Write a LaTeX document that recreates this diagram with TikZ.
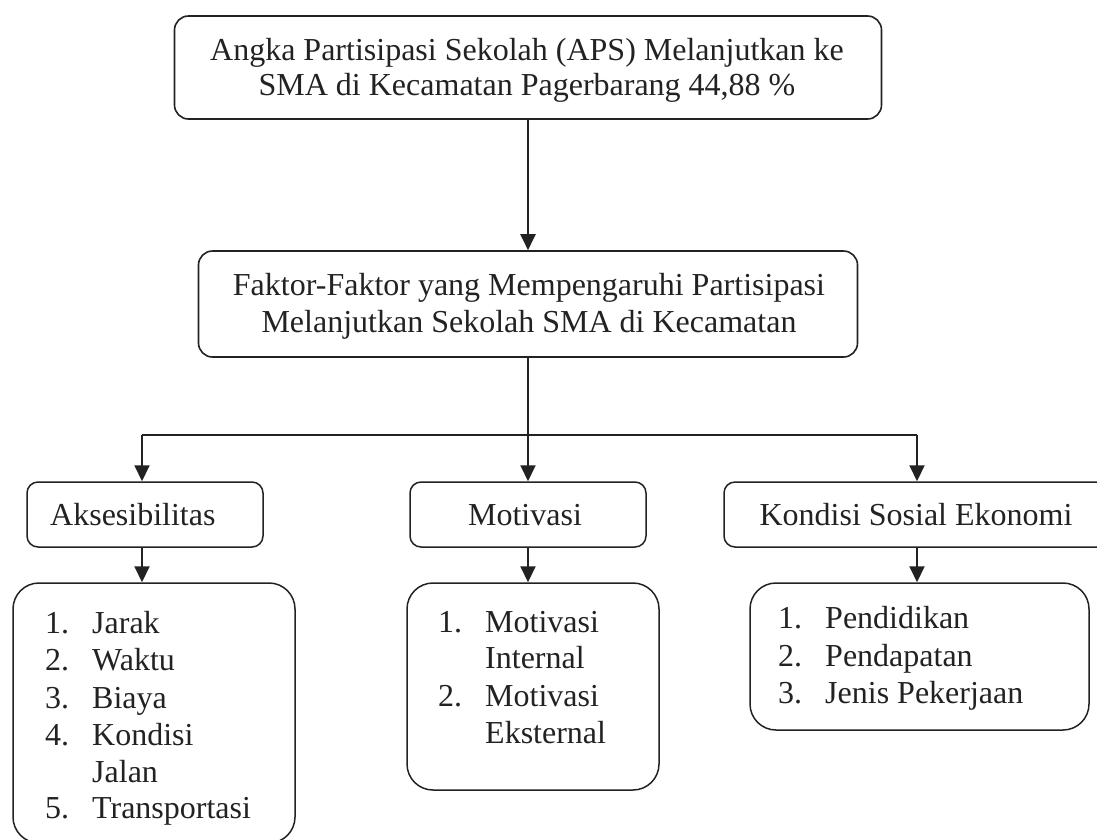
\documentclass[tikz,border=0pt]{standalone}
\usepackage{fontspec}
\setmainfont{Liberation Serif}
\usetikzlibrary{arrows.meta}
\definecolor{ink}{HTML}{222222}
\tikzset{
  box/.style={draw=ink, line width=1.6pt, rounded corners=14pt, inner sep=0pt},
  listbox/.style={draw=ink, line width=1.5pt, rounded corners=26pt, inner sep=0pt},
  midbox/.style={draw=ink, line width=1.5pt, rounded corners=11pt, inner sep=0pt},
  txt/.style={text=ink, inner sep=0pt, font=\fontsize{32}{36}\selectfont},
  arr/.style={draw=ink, line width=2pt, -{Triangle[width=15pt,length=16pt]}},
  link/.style={draw=ink, line width=1.5pt}
}
\begin{document}
\begin{tikzpicture}[x=1pt,y=-1pt]
\useasboundingbox (0,0) rectangle (1097,839);
\clip (0,0) rectangle (1097,839);
% top boxes
\node[box, minimum width=707pt, minimum height=103pt] (top) at (528,67.5) {};
\node[txt, anchor=base] (topA) at (527,60) {Angka Partisipasi Sekolah (APS) Melanjutkan ke};
\node[txt, anchor=base] (topB) at (527,95) {SMA di Kecamatan Pagerbarang 44,88 \%};
\node[box, minimum width=659pt, minimum height=106pt] (sec) at (528,304) {};
\node[txt, anchor=base] (secA) at (529,295) {Faktor-Faktor yang Mempengaruhi Partisipasi};
\node[txt, anchor=base] (secB) at (529,332) {Melanjutkan Sekolah SMA di Kecamatan};
% middle row
\node[midbox, minimum width=236pt, minimum height=65pt] (aks) at (145,514.5) {};
\node[txt, anchor=base west] (aksT) at (50,525) {Aksesibilitas};
\node[midbox, minimum width=236pt, minimum height=65pt] (mot) at (528,514.5) {};
\node[txt, anchor=base] (motT) at (525,525) {Motivasi};
\node[midbox, minimum width=386pt, minimum height=65pt] (kon) at (917,514.5) {};
\node[txt, anchor=base] (konT) at (916,525) {Kondisi Sosial Ekonomi};
% list boxes
\node[listbox, minimum width=282pt, minimum height=260pt] (l1) at (154,713) {};
\node[listbox, minimum width=252pt, minimum height=207pt] (l2) at (533,686.5) {};
\node[listbox, minimum width=339pt, minimum height=147pt] (l3) at (919.5,656.5) {};
% list 1
\node[txt, anchor=base west] (a1n) at (45,633) {1.};
\node[txt, anchor=base west] (a1t) at (92,633) {Jarak};
\node[txt, anchor=base west] (a2n) at (45,670) {2.};
\node[txt, anchor=base west] (a2t) at (92,670) {Waktu};
\node[txt, anchor=base west] (a3n) at (45,708) {3.};
\node[txt, anchor=base west] (a3t) at (92,708) {Biaya};
\node[txt, anchor=base west] (a4n) at (45,745) {4.};
\node[txt, anchor=base west] (a4t) at (92,745) {Kondisi};
\node[txt, anchor=base west] (a4u) at (92,782) {Jalan};
\node[txt, anchor=base west] (a5n) at (45,818) {5.};
\node[txt, anchor=base west] (a5t) at (92,818) {Transportasi};
% list 2
\node[txt, anchor=base west] (b1n) at (438,632) {1.};
\node[txt, anchor=base west] (b1t) at (485,632) {Motivasi};
\node[txt, anchor=base west] (b1u) at (485,668) {Internal};
\node[txt, anchor=base west] (b2n) at (438,706) {2.};
\node[txt, anchor=base west] (b2t) at (485,706) {Motivasi};
\node[txt, anchor=base west] (b2u) at (485,743) {Eksternal};
% list 3
\node[txt, anchor=base west] (c1n) at (778,628) {1.};
\node[txt, anchor=base west] (c1t) at (825,628) {Pendidikan};
\node[txt, anchor=base west] (c2n) at (778,666) {2.};
\node[txt, anchor=base west] (c2t) at (825,666) {Pendapatan};
\node[txt, anchor=base west] (c3n) at (778,703) {3.};
\node[txt, anchor=base west] (c3t) at (825,703) {Jenis Pekerjaan};
% connectors
\coordinate (aksx) at (142,0);
\coordinate (jy) at (0,435);
\draw[arr] (top.south) -- (sec.north);
\draw[link] (sec.south) -- (sec.south |- jy);
\draw[link] (aksx |- jy) -- (kon.north |- jy);
\draw[arr] (aksx |- jy) -- (aksx |- aks.north);
\draw[arr] (sec.south |- jy) -- (mot.north);
\draw[arr] (kon.north |- jy) -- (kon.north);
\draw[arr] (aksx |- aks.south) -- (aksx |- l1.north);
\draw[arr] (mot.south) -- (mot.south |- l2.north);
\draw[arr] (kon.south) -- (kon.south |- l3.north);
\end{tikzpicture}
\end{document}
